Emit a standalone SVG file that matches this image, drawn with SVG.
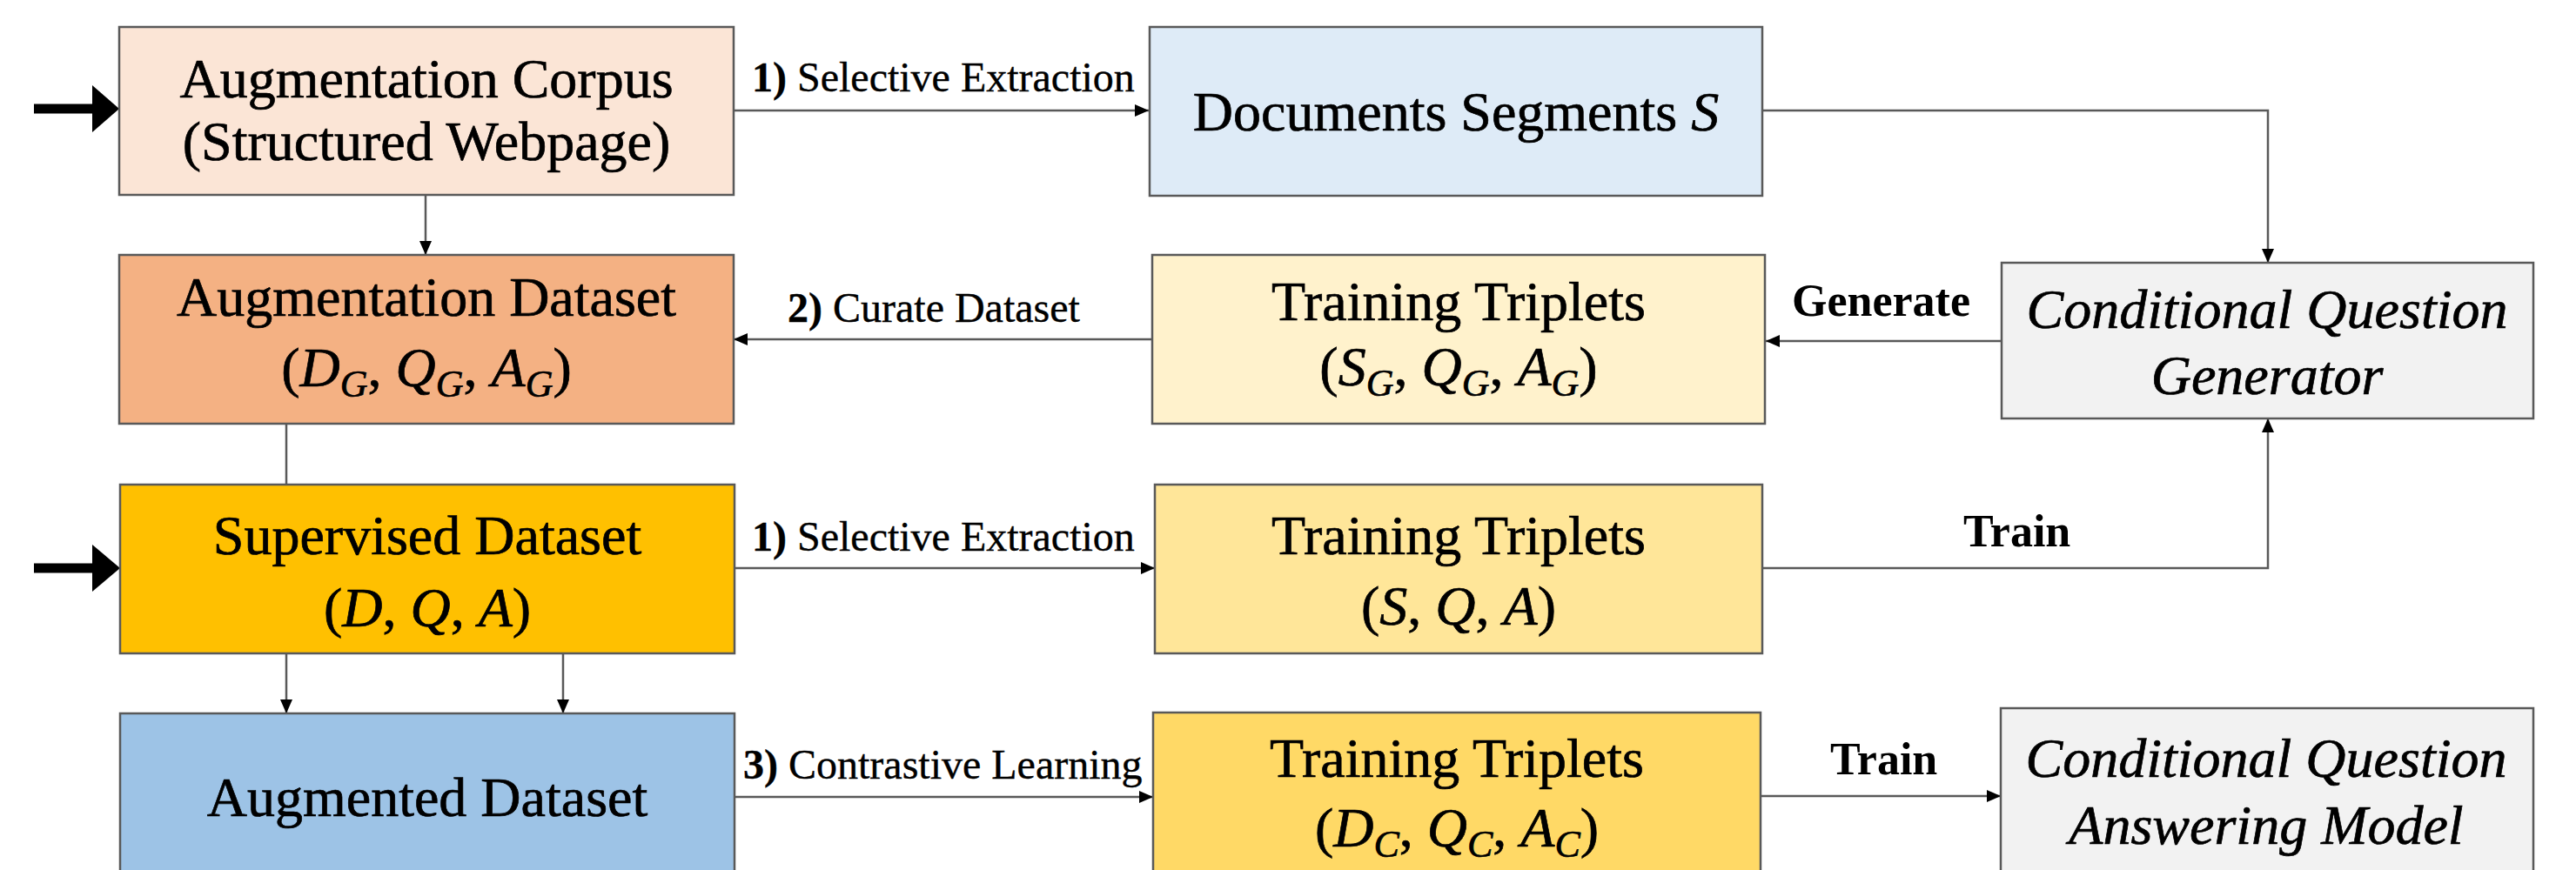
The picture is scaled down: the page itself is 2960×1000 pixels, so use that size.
<svg xmlns="http://www.w3.org/2000/svg" width="2960" height="1000" viewBox="0 0 2960 1000">
<style>
.box{stroke:#595959;stroke-width:2.5}
text{font-family:"Liberation Serif","Times New Roman",serif;fill:#000}
.t{font-size:64px;text-anchor:middle;stroke:#000;stroke-width:0.7}
.lbl{font-size:48px;stroke:#000;stroke-width:0.4}
.bl{font-size:52px;font-weight:bold}
.i{font-style:italic}
.sub{font-style:italic;font-size:44px}
.b{font-weight:bold}
.c{fill:none;stroke:#595959;stroke-width:2.5}
</style>
<defs>
<marker id="ah" markerUnits="userSpaceOnUse" markerWidth="18" markerHeight="16" refX="16" refY="7" orient="auto">
<path d="M0,0 L16,7 L0,14 Z" fill="#000"/>
</marker>
</defs>
<rect width="2960" height="1000" fill="#fff"/>
<g id="connectors">
<path d="M39,125 H108" stroke="#000" stroke-width="11" fill="none"/>
<path d="M106,98 L137,125 L106,152 Z" fill="#000"/>
<path d="M39,653 H108" stroke="#000" stroke-width="11" fill="none"/>
<path d="M106,626 L138,653 L106,680 Z" fill="#000"/>
<path class="c" d="M843,127 H1320" marker-end="url(#ah)"/>
<path class="c" d="M2025,127 H2606 V302" marker-end="url(#ah)"/>
<path class="c" d="M489,224 V293" marker-end="url(#ah)"/>
<path class="c" d="M2300,392 H2029" marker-end="url(#ah)"/>
<path class="c" d="M1324,390 H843" marker-end="url(#ah)"/>
<path class="c" d="M329,487 V557"/>
<path class="c" d="M844,653 H1327" marker-end="url(#ah)"/>
<path class="c" d="M2025,653 H2606 V481" marker-end="url(#ah)"/>
<path class="c" d="M329,751 V820" marker-end="url(#ah)"/>
<path class="c" d="M647,751 V820" marker-end="url(#ah)"/>
<path class="c" d="M844,916 H1325" marker-end="url(#ah)"/>
<path class="c" d="M2023,915 H2299" marker-end="url(#ah)"/>
<text class="lbl" x="864" y="105"><tspan class="b">1)</tspan> Selective Extraction</text>
<text class="lbl" x="905" y="370"><tspan class="b">2)</tspan> Curate Dataset</text>
<text class="bl" x="2059" y="363">Generate</text>
<text class="lbl" x="864" y="633"><tspan class="b">1)</tspan> Selective Extraction</text>
<text class="bl" x="2256" y="628">Train</text>
<text class="lbl" x="854" y="895"><tspan class="b">3)</tspan> Contrastive Learning</text>
<text class="bl" x="2103" y="890">Train</text>
</g>
<g id="corpus">
<rect class="box" x="137" y="31" width="706" height="193" fill="#FBE5D6"/>
<text class="t" x="490" y="112">Augmentation Corpus</text>
<text class="t" x="490" y="184">(Structured Webpage)</text>
</g>
<g id="docs">
<rect class="box" x="1321" y="31" width="704" height="194" fill="#DEEBF7"/>
<text class="t" x="1673" y="150">Documents Segments <tspan class="i">S</tspan></text>
</g>
<g id="augds">
<rect class="box" x="137" y="293" width="706" height="194" fill="#F4B183"/>
<text class="t" x="490" y="363">Augmentation Dataset</text>
<text class="t" x="490" y="444">(<tspan class="i">D</tspan><tspan class="sub" dy="12">G</tspan><tspan dy="-12">, </tspan><tspan class="i">Q</tspan><tspan class="sub" dy="12">G</tspan><tspan dy="-12">, </tspan><tspan class="i">A</tspan><tspan class="sub" dy="12">G</tspan><tspan dy="-12">)</tspan></text>
</g>
<g id="tripG">
<rect class="box" x="1324" y="293" width="704" height="194" fill="#FFF2CC"/>
<text class="t" x="1676" y="368">Training Triplets</text>
<text class="t" x="1676" y="443">(<tspan class="i">S</tspan><tspan class="sub" dy="12">G</tspan><tspan dy="-12">, </tspan><tspan class="i">Q</tspan><tspan class="sub" dy="12">G</tspan><tspan dy="-12">, </tspan><tspan class="i">A</tspan><tspan class="sub" dy="12">G</tspan><tspan dy="-12">)</tspan></text>
</g>
<g id="cqg">
<rect class="box" x="2300" y="302" width="611" height="179" fill="#F2F2F2"/>
<text class="t i" x="2605" y="377">Conditional Question</text>
<text class="t i" x="2605" y="453">Generator</text>
</g>
<g id="sup">
<rect class="box" x="138" y="557" width="706" height="194" fill="#FFC000"/>
<text class="t" x="491" y="637">Supervised Dataset</text>
<text class="t" x="491" y="720">(<tspan class="i">D</tspan>, <tspan class="i">Q</tspan>, <tspan class="i">A</tspan>)</text>
</g>
<g id="tripSQA">
<rect class="box" x="1327" y="557" width="698" height="194" fill="#FFE699"/>
<text class="t" x="1676" y="637">Training Triplets</text>
<text class="t" x="1676" y="718">(<tspan class="i">S</tspan>, <tspan class="i">Q</tspan>, <tspan class="i">A</tspan>)</text>
</g>
<g id="augmented">
<rect class="box" x="138" y="820" width="706" height="200" fill="#9DC3E6"/>
<text class="t" x="491" y="938">Augmented Dataset</text>
</g>
<g id="tripC">
<rect class="box" x="1325" y="819" width="698" height="200" fill="#FFD966"/>
<text class="t" x="1674" y="893">Training Triplets</text>
<text class="t" x="1674" y="973">(<tspan class="i">D</tspan><tspan class="sub" dy="12">C</tspan><tspan dy="-12">, </tspan><tspan class="i">Q</tspan><tspan class="sub" dy="12">C</tspan><tspan dy="-12">, </tspan><tspan class="i">A</tspan><tspan class="sub" dy="12">C</tspan><tspan dy="-12">)</tspan></text>
</g>
<g id="cqa">
<rect class="box" x="2299" y="814" width="612" height="200" fill="#F2F2F2"/>
<text class="t i" x="2604" y="893">Conditional Question</text>
<text class="t i" x="2604" y="970">Answering Model</text>
</g>
</svg>
